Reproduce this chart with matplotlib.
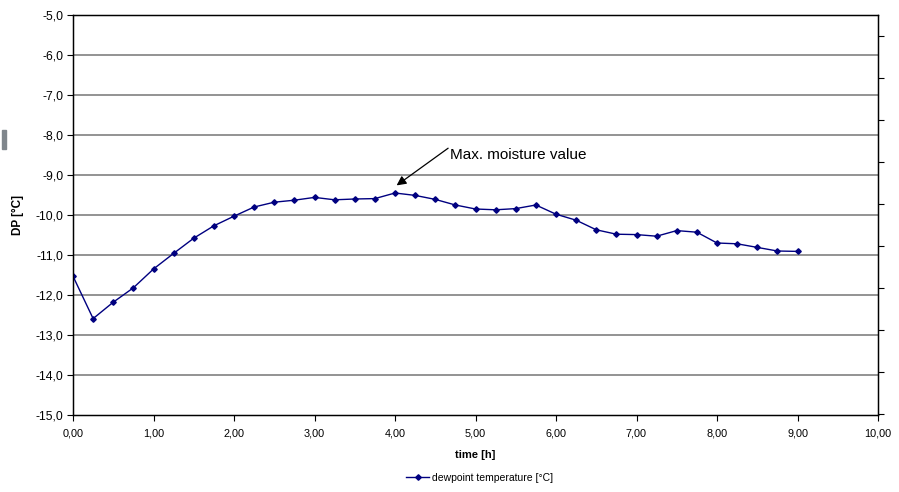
import matplotlib
matplotlib.use("Agg")
import matplotlib.pyplot as plt
from matplotlib.ticker import FuncFormatter, FixedLocator
from matplotlib.patches import Rectangle

plt.rcParams['font.family'] = ['Liberation Sans', 'DejaVu Sans']

time_h = [0.00, 0.25, 0.50, 0.75, 1.00, 1.25, 1.50, 1.75, 2.00, 2.25, 2.50, 2.75,
          3.00, 3.25, 3.50, 3.75, 4.00, 4.25, 4.50, 4.75, 5.00, 5.25, 5.50, 5.75,
          6.00, 6.25, 6.50, 6.75, 7.00, 7.25, 7.50, 7.75, 8.00, 8.25, 8.50, 8.75, 9.00]
dewpoint = [-11.53, -12.59, -12.18, -11.82, -11.35, -10.96, -10.58, -10.27, -10.03, -9.80,
            -9.68, -9.63, -9.56, -9.62, -9.60, -9.59, -9.45, -9.51, -9.61, -9.75,
            -9.85, -9.87, -9.84, -9.75, -9.98, -10.13, -10.37, -10.48, -10.49, -10.53,
            -10.39, -10.43, -10.70, -10.72, -10.81, -10.90, -10.91]

x_ticks = [0, 1, 2, 3, 4, 5, 6, 7, 8, 9, 10]
y_ticks = [-15, -14, -13, -12, -11, -10, -9, -8, -7, -6, -5]
right_ticks = [-5.525 - 1.05 * k for k in range(10)]

W, H = 899, 492
fig = plt.figure(figsize=(W / 100, H / 100), dpi=100)
ax = fig.add_axes([73 / W, 1 - 415 / H, (878 - 73) / W, (415 - 15) / H])

line_color = '#000080'
data_line, = ax.plot(time_h, dewpoint, color=line_color, lw=1.0, marker='D', ms=2.8,
                     label='dewpoint temperature [°C]', zorder=3)

ax.set_xlim(0, 10)
ax.set_ylim(-15, -5)
ax.set_xticks(x_ticks)
ax.set_yticks(y_ticks)
ax.xaxis.set_major_formatter(FuncFormatter(lambda v, p: f"{v:.2f}".replace('.', ',')))
ax.yaxis.set_major_formatter(FuncFormatter(lambda v, p: f"{v:.1f}".replace('.', ',')))
ax.tick_params(axis='both', direction='out', length=4, width=0.8,
               colors='black', pad=3)
ax.tick_params(axis='x', pad=6, labelsize=7.8)
ax.tick_params(axis='y', labelsize=8.8)

for v in y_ticks[1:-1]:
    ax.axhline(v, color='#808080', lw=1.2, zorder=1)

for s in ax.spines.values():
    s.set_color('black')
    s.set_linewidth(1.0)

ax2 = ax.twinx()
ax2.set_ylim(-15, -5)
ax2.yaxis.set_major_locator(FixedLocator(right_ticks))
ax2.tick_params(axis='y', direction='out', length=4, width=0.8, labelright=False)

ax.set_xlabel('time [h]', fontsize=8, fontweight='bold', labelpad=8)
ax.set_ylabel('DP [°C]', fontsize=8.5, fontweight='bold', labelpad=8)

# annotation
ax.annotate('', xy=(4.02, -9.26), xytext=(4.66, -8.33),
            arrowprops=dict(arrowstyle='-|>', color='black', lw=0.9,
                            mutation_scale=14, shrinkA=0, shrinkB=0))
ax.text(4.68, -8.5, 'Max. moisture value', fontsize=11, ha='left', va='center')

fig.legend(handles=[data_line], loc='center', bbox_to_anchor=(480 / W, 1 - 478 / H),
           frameon=False, fontsize=7.5, handlelength=2.2, handletextpad=0.3)

fig.patches.append(Rectangle((2 / W, 1 - 149 / H), 4 / W, 19 / H,
                             transform=fig.transFigure, color='#7f868c', zorder=5))

fig.savefig('out.png', dpi=100)
